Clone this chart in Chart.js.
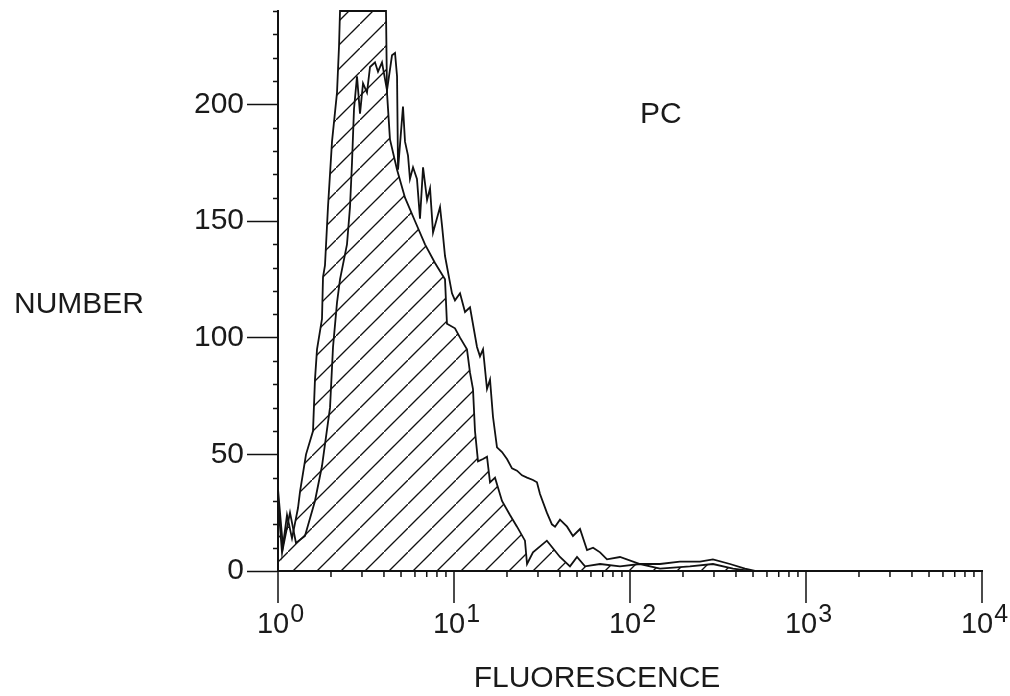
<!DOCTYPE html>
<html>
<head>
<meta charset="utf-8">
<script src="https://cdn.jsdelivr.net/npm/chart.js@4/dist/chart.umd.min.js"></script>
<style>
  html, body { margin: 0; padding: 0; background: #fff; }
  canvas { display: block; }
</style>
</head>
<body>
<canvas id="histo" width="1010" height="696"></canvas>
<script>
// hatched histogram (fluorescence value, count)
const hatchX = [1.00, 1.054, 1.125, 1.201, 1.299, 1.334, 1.443, 1.581, 1.622, 1.666, 1.778, 1.802, 1.849, 1.923,
  2.027, 2.164, 2.222, 2.251, 2.924, 4.108, 4.162, 4.327, 4.747, 5.268, 6.00, 6.843, 7.80, 8.89, 9.12,
  10.13, 10.82, 11.85, 12.33, 12.82, 13.16, 13.69, 14.62, 15.40, 16.02, 17.10, 18.74, 20.8, 22.8, 25.31,
  26.0, 28.1, 33.7, 40.0, 45.6, 50.0, 55.5, 67.6, 87.7, 114, 148, 219, 296, 385, 481];
const hatchY = [30, 8, 24, 14, 27, 34, 50, 60, 82, 95, 108, 126, 131, 156,
  184, 205, 225, 240, 240, 240, 205, 185, 172, 160, 150, 140, 132, 125, 106,
  104, 100, 95, 85, 78, 60, 47, 48, 49, 38, 40, 30, 24, 19, 13,
  3, 8, 13, 6, 2, 6, 2, 3, 2, 3, 1, 2, 3, 1, 0];

// open histogram
const openX = [1.00, 1.068, 1.170, 1.265, 1.423, 1.622, 1.778, 1.975, 2.054, 2.164, 2.251, 2.466, 2.565, 2.633,
  2.703, 2.811, 2.924, 3.041, 3.204, 3.333, 3.557, 3.700, 3.899, 4.162, 4.444, 4.623, 4.747, 4.808,
  5.13, 5.268, 5.48, 5.62, 5.85, 6.16, 6.41, 6.67, 7.03, 7.31, 7.60, 8.33, 8.55, 8.89, 9.74,
  10.13, 10.82, 11.55, 12.33, 13.51, 14.05, 14.62, 15.40, 16.02, 16.66, 17.55, 18.74, 20.0, 21.36, 22.8, 24.34, 26.0,
  28.1, 29.6, 30.8, 33.7, 36.0, 37.5, 40.0, 43.9, 47.4, 52.0, 57.0, 61.7, 67.6, 74.0, 87.7,
  114, 148, 192, 250, 296, 370, 450, 513];
const openY = [35, 10, 25, 12, 15, 30, 45, 70, 96, 115, 125, 140, 156, 175,
  198, 212, 196, 209, 205, 216, 218, 214, 218, 206, 221, 222, 212, 172,
  199, 184, 178, 168, 173, 168, 151, 173, 159, 164, 145, 156, 148, 135, 119,
  116, 119, 111, 113, 96, 92, 95, 78, 82, 66, 53, 51, 48, 44, 43, 41, 40,
  39, 38, 33, 25, 20, 19, 22, 19, 15, 18, 9, 10, 8, 5, 6,
  3, 3, 4, 4, 5, 3, 1, 0];

const decadeTicks = [1, 10, 100, 1000, 10000];
const yMinorStep = 10;

const FONT = '"Liberation Sans", Arial, sans-serif';
const INK = '#1a1a1a';

// diagonal hatch pattern
function makeHatch(w, h) {
  const c = document.createElement('canvas');
  c.width = w; c.height = h;
  const g = c.getContext('2d');
  g.strokeStyle = '#111';
  g.lineWidth = 1.3;
  g.beginPath();
  g.moveTo(-w, 2 * h); g.lineTo(2 * w, -h);
  g.stroke();
  return g.createPattern(c, 'repeat');
}

const decor = {
  id: 'decor',
  afterDraw(chart) {
    const { ctx, chartArea, scales: { x, y } } = chart;
    ctx.save();
    ctx.strokeStyle = '#111';
    ctx.lineWidth = 1.5;
    ctx.beginPath();
    // y minor ticks
    for (let v = yMinorStep; v <= y.max; v += yMinorStep) {
      if (v % 50 === 0) continue;
      const py = Math.round(y.getPixelForValue(v)) + 0.5;
      ctx.moveTo(chartArea.left - 5, py); ctx.lineTo(chartArea.left, py);
    }
    // x ticks
    decadeTicks.forEach((d, i) => {
      const px = x.getPixelForValue(d);
      ctx.moveTo(px, chartArea.bottom); ctx.lineTo(px, chartArea.bottom + 32);
      if (i < decadeTicks.length - 1) {
        for (let m = 2; m <= 9; m++) {
          const mx = x.getPixelForValue(m * d);
          ctx.moveTo(mx, chartArea.bottom); ctx.lineTo(mx, chartArea.bottom + 6);
        }
      }
    });
    ctx.stroke();

    // decade labels with superscript
    ctx.fillStyle = INK;
    ctx.textBaseline = 'alphabetic';
    ctx.textAlign = 'left';
    decadeTicks.forEach(d => {
      const px = x.getPixelForValue(d);
      const exp = String(Math.round(Math.log10(d)));
      ctx.font = '29px ' + FONT;
      const w1 = ctx.measureText('10').width;
      ctx.font = '25px ' + FONT;
      const w2 = ctx.measureText(exp).width;
      const start = px - (w1 + w2) / 2 + 2;
      ctx.font = '29px ' + FONT;
      ctx.fillText('10', start, 633);
      ctx.font = '25px ' + FONT;
      ctx.fillText(exp, start + w1 + 1, 622);
    });

    ctx.font = '30px ' + FONT;
    ctx.textAlign = 'center';
    ctx.fillText('FLUORESCENCE', 597, 687);
    ctx.fillText('NUMBER', 79, 313);
    ctx.textAlign = 'left';
    ctx.fillText('PC', 640, 123);
    ctx.restore();
  }
};

const canvas = document.getElementById('histo');
const hatch = makeHatch(24, 24);

new Chart(canvas, {
  type: 'line',
  data: {
    datasets: [
      {
        label: 'hatched',
        data: hatchX.map((v, i) => ({ x: v, y: hatchY[i] })),
        borderColor: '#111',
        borderWidth: 1.8,
        backgroundColor: hatch,
        fill: 'origin',
        pointRadius: 0,
        tension: 0,
        clip: 4
      },
      {
        label: 'open',
        data: openX.map((v, i) => ({ x: v, y: openY[i] })),
        borderColor: '#111',
        borderWidth: 1.8,
        fill: false,
        pointRadius: 0,
        tension: 0,
        clip: 4
      }
    ]
  },
  options: {
    responsive: false,
    animation: false,
    layout: { padding: { left: 0, right: 28, top: 11, bottom: 0 } },
    plugins: { legend: { display: false }, tooltip: { enabled: false } },
    scales: {
      x: {
        type: 'logarithmic',
        min: 1,
        max: 10000,
        grid: { display: false },
        border: { color: '#111', width: 2 },
        ticks: { display: false },
        afterFit: s => { s.height = 125; s.paddingLeft = 0; s.paddingRight = 0; }
      },
      y: {
        min: 0,
        max: 240,
        ticks: {
          stepSize: 50,
          includeBounds: false,
          color: INK,
          padding: 3,
          font: { family: FONT, size: 30 }
        },
        grid: { drawOnChartArea: false, tickLength: 31, tickColor: '#111', tickWidth: 1.5 },
        border: { color: '#111', width: 2 },
        afterFit: s => { s.width = 278; s.paddingTop = 0; s.paddingBottom = 0; }
      }
    }
  },
  plugins: [decor]
});
</script>
</body>
</html>
